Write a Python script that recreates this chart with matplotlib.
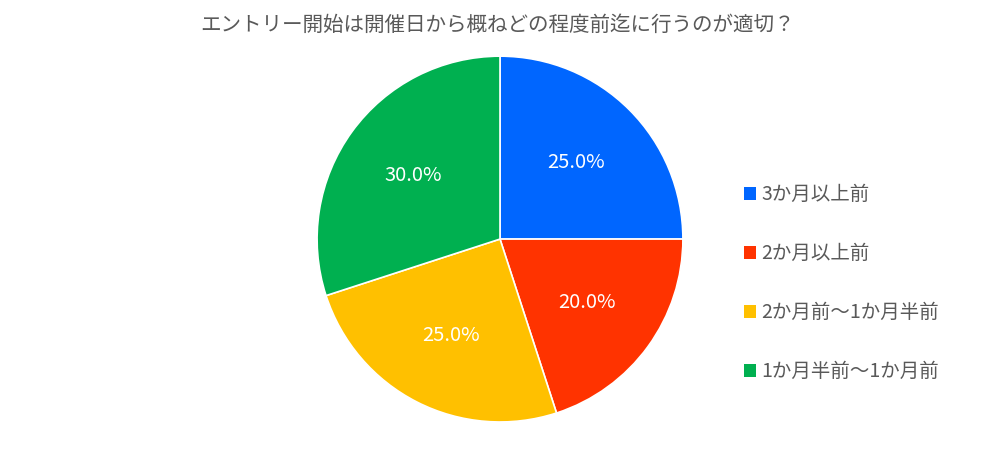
import matplotlib
matplotlib.use("Agg")
import matplotlib.pyplot as plt
from matplotlib.patches import Patch

plt.rcParams['font.family'] = ['Noto Sans CJK JP', 'DejaVu Sans']

title = "エントリー開始は開催日から概ねどの程度前迄に行うのが適切？"
categories = ["3か月以上前", "2か月以上前", "2か月前〜1か月半前", "1か月半前〜1か月前"]
values = [25.0, 20.0, 25.0, 30.0]
colors = ["#0066FF", "#FF3300", "#FFC000", "#00B050"]

fig = plt.figure(figsize=(10, 4.72), dpi=100)
ax = fig.add_axes([0.317, 0.106, 0.366, 0.775])
wedges, texts, autotexts = ax.pie(
    values, colors=colors, startangle=90, counterclock=False,
    autopct="%.1f%%", pctdistance=0.59,
    wedgeprops=dict(edgecolor="white", linewidth=1.2),
    textprops=dict(color="white", fontsize=14.5))
ax.set_xlim(-1, 1)
ax.set_ylim(-1, 1)
ax.set_aspect("equal")

fig.text(0.4975, 0.947, title, ha="center", va="center", fontsize=14.8, color="#595959")

handles = [Patch(facecolor=c, edgecolor="none") for c in colors]
leg = fig.legend(handles, categories, loc="center left", bbox_to_anchor=(0.726, 0.400),
                 frameon=False, fontsize=14, labelcolor="#595959",
                 handlelength=0.62, handleheight=0.62, handletextpad=0.3,
                 labelspacing=1.95)

fig.savefig("out.png", dpi=100)
